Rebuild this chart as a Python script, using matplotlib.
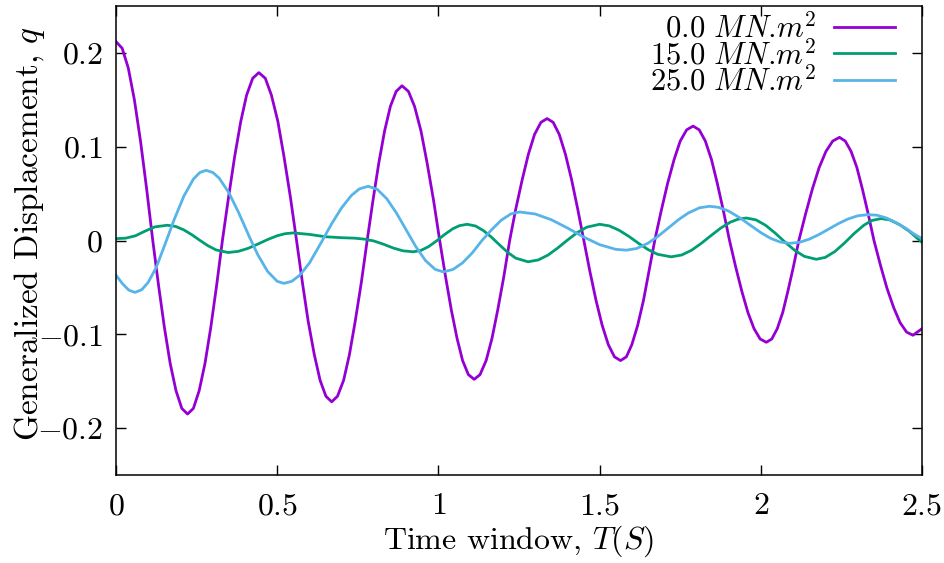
import numpy as np
import matplotlib
matplotlib.use("Agg")
import matplotlib.pyplot as plt

plt.rcParams['font.family'] = 'serif'
plt.rcParams['font.serif'] = ['cmr10']
plt.rcParams['mathtext.fontset'] = 'cm'
plt.rcParams['axes.formatter.use_mathtext'] = True

# 0.0 MN.m^2
t_a = [0.000, 0.019, 0.038, 0.057, 0.076, 0.095, 0.114,
       0.132, 0.150, 0.168, 0.186, 0.204, 0.222, 0.240, 0.258, 0.276, 0.294, 0.312, 0.330,
       0.349, 0.368, 0.387, 0.405, 0.424, 0.443, 0.463, 0.482, 0.502, 0.521, 0.541, 0.560,
       0.578, 0.596, 0.615, 0.633, 0.651, 0.669, 0.687, 0.706, 0.724, 0.742, 0.761, 0.779,
       0.797, 0.815, 0.833, 0.851, 0.869, 0.887, 0.907, 0.926, 0.946, 0.965, 0.985, 1.004,
       1.022, 1.040, 1.058, 1.075, 1.093, 1.111, 1.129, 1.148, 1.166, 1.184, 1.203, 1.221,
       1.240, 1.260, 1.279, 1.298, 1.318, 1.337, 1.356, 1.375, 1.394, 1.413, 1.432, 1.451,
       1.470, 1.489, 1.508, 1.527, 1.546, 1.565, 1.583, 1.600, 1.618, 1.636, 1.653, 1.671,
       1.691, 1.711, 1.731, 1.750, 1.770, 1.790, 1.809, 1.828, 1.847, 1.865, 1.884, 1.903,
       1.922, 1.941, 1.960, 1.979, 1.998, 2.017, 2.034, 2.051, 2.068, 2.084, 2.101, 2.118,
       2.139, 2.160, 2.181, 2.202, 2.223, 2.244, 2.262, 2.280, 2.298, 2.315, 2.333, 2.351,
       2.371, 2.391, 2.412, 2.432, 2.452, 2.472, 2.500]
q_a = [0.212, 0.205, 0.184, 0.150, 0.106, 0.055, 0.000,
       -0.048, -0.0925, -0.131, -0.160, -0.179, -0.185, -0.179, -0.160, -0.131, -0.0925, -0.048, 0.000,
       0.046, 0.0895, 0.127, 0.155, 0.173, 0.179, 0.173, 0.155, 0.127, 0.0895, 0.046, 0.000,
       -0.0445, -0.086, -0.1216, -0.149, -0.166, -0.172, -0.166, -0.149, -0.1216, -0.086, -0.0445, 0.000,
       0.0427, 0.0825, 0.1167, 0.143, 0.159, 0.165, 0.159, 0.143, 0.1167, 0.0825, 0.0427, 0.000,
       -0.0383, -0.074, -0.1046, -0.128, -0.143, -0.148, -0.143, -0.128, -0.1046, -0.074, -0.0383, 0.000,
       0.0337, 0.065, 0.0919, 0.113, 0.126, 0.130, 0.126, 0.113, 0.0919, 0.065, 0.0337, 0.000,
       -0.0332, -0.064, -0.0905, -0.111, -0.124, -0.128, -0.124, -0.111, -0.0905, -0.064, -0.0332, 0.000,
       0.0316, 0.061, 0.0863, 0.106, 0.118, 0.122, 0.118, 0.106, 0.0863, 0.061, 0.0316, 0.000,
       -0.0281, -0.054, -0.0767, -0.094, -0.105, -0.1085, -0.105, -0.094, -0.0767, -0.054, -0.0281, 0.000,
       0.0285, 0.055, 0.0778, 0.095, 0.106, 0.110, 0.106, 0.095, 0.0778, 0.055, 0.0285, 0.000,
       -0.0262, -0.0505, -0.0714, -0.0875, -0.0976, -0.101, -0.094]

# 15.0 MN.m^2
t_b = [0.000, 0.030, 0.060, 0.090, 0.120, 0.159, 0.185, 0.210, 0.235, 0.260, 0.285, 0.310, 0.348,
       0.380, 0.410, 0.440, 0.470, 0.500, 0.525, 0.550,
       0.600, 0.650, 0.700, 0.740, 0.770, 0.800, 0.830, 0.860, 0.890, 0.922,
       0.945, 0.970, 0.995, 1.020, 1.045, 1.065, 1.089,
       1.115, 1.140, 1.165, 1.190, 1.215, 1.240, 1.278,
       1.310, 1.340, 1.370, 1.400, 1.430, 1.460, 1.500,
       1.530, 1.560, 1.590, 1.620, 1.650, 1.680, 1.722,
       1.755, 1.785, 1.815, 1.845, 1.875, 1.905, 1.930, 1.955,
       1.985, 2.015, 2.045, 2.075, 2.105, 2.135, 2.172,
       2.200, 2.230, 2.260, 2.290, 2.320, 2.345, 2.373,
       2.400, 2.430, 2.460, 2.480, 2.500]
q_b = [0.002, 0.0025, 0.005, 0.010, 0.0145, 0.0163, 0.0150, 0.0114, 0.0062, 0.0002, -0.0055, -0.0100, -0.0128,
       -0.0115, -0.0083, -0.0038, 0.0010, 0.0051, 0.0073, 0.0081,
       0.0065, 0.0040, 0.0030, 0.0025, 0.0015, -0.0005, -0.0040, -0.0080, -0.0110, -0.0120,
       -0.0107, -0.0064, -0.0002, 0.0066, 0.0126, 0.0158, 0.0173,
       0.0155, 0.0105, 0.0034, -0.0048, -0.0127, -0.0188, -0.0227,
       -0.0207, -0.0155, -0.0080, 0.0004, 0.0083, 0.0142, 0.0173,
       0.0156, 0.0110, 0.0046, -0.0028, -0.0096, -0.0147, -0.0174,
       -0.0154, -0.0104, -0.0031, 0.0051, 0.0131, 0.0195, 0.0228, 0.0240,
       0.0220, 0.0162, 0.0078, -0.0017, -0.0104, -0.0169, -0.0200,
       -0.0180, -0.0117, -0.0025, 0.0076, 0.0164, 0.0214, 0.0234,
       0.0220, 0.0170, 0.0100, 0.0040, -0.0020]

# 25.0 MN.m^2
t_c = [0.000, 0.020, 0.040, 0.059, 0.080, 0.100, 0.125, 0.152, 0.180, 0.210, 0.240, 0.260, 0.279,
       0.300, 0.320, 0.350, 0.380, 0.415, 0.440, 0.470, 0.500, 0.521,
       0.545, 0.570, 0.600, 0.635, 0.670, 0.700, 0.730, 0.755, 0.782,
       0.810, 0.840, 0.870, 0.900, 0.930, 0.960, 0.990, 1.015,
       1.045, 1.075, 1.105, 1.135, 1.165, 1.195, 1.225, 1.252,
       1.300, 1.350, 1.400, 1.450, 1.500, 1.550, 1.583,
       1.615, 1.650, 1.680, 1.710, 1.745, 1.775, 1.810, 1.841,
       1.870, 1.900, 1.935, 1.965, 2.000, 2.030, 2.060, 2.090,
       2.120, 2.150, 2.180, 2.210, 2.240, 2.270, 2.300, 2.332,
       2.360, 2.390, 2.420, 2.450, 2.475, 2.500]
q_c = [-0.037, -0.046, -0.053, -0.0553, -0.0524, -0.0445, -0.0285, -0.0040, 0.0220, 0.0470, 0.0655, 0.0725, 0.0748,
       0.0726, 0.0665, 0.0510, 0.0300, 0.0029, -0.0153, -0.0329, -0.0435, -0.0457,
       -0.0435, -0.0370, -0.0240, -0.0030, 0.0185, 0.0350, 0.0480, 0.0551, 0.0578,
       0.0546, 0.0445, 0.0292, 0.0113, -0.0066, -0.0214, -0.0308, -0.0334,
       -0.0309, -0.0238, -0.0132, 0.0000, 0.0115, 0.0217, 0.0284, 0.0304,
       0.0283, 0.0222, 0.0134, 0.0038, -0.0044, -0.0094, -0.0103,
       -0.0085, -0.0029, 0.0042, 0.0125, 0.0223, 0.0293, 0.0349, 0.0365,
       0.0353, 0.0314, 0.0242, 0.0169, 0.0084, 0.0024, -0.0016, -0.0030,
       -0.0019, 0.0014, 0.0063, 0.0121, 0.0179, 0.0229, 0.0263, 0.0276,
       0.0270, 0.0240, 0.0190, 0.0130, 0.0070, 0.0020]

labels = [r'$\enspace0.0\ MN$.$m^2$', r'$15.0\ MN$.$m^2$', r'$25.0\ MN$.$m^2$']
colors = ['#9400d3', '#009e73', '#56b4e9']

xticks = [0, 0.5, 1, 1.5, 2, 2.5]
xtick_labels = ['$0$', '$0.5$', '$1$', '$1.5$', '$2$', '$2.5$']
yticks = [-0.2, -0.1, 0, 0.1, 0.2]
ytick_labels = ['$-0.2$', '$-0.1$', '$0$', '$0.1$', '$0.2$']

fig = plt.figure(figsize=(9.44, 5.63), dpi=100)
ax = fig.add_axes([0.1229, 0.1563, 0.8538, 0.833])

for t, q, lab, c in zip([t_a, t_b, t_c], [q_a, q_b, q_c], labels, colors):
    ax.plot(t, q, color=c, lw=2.0, label=lab)

ax.set_xlim(0, 2.5)
ax.set_ylim(-0.25, 0.25)
ax.set_xticks(xticks)
ax.set_xticklabels(xtick_labels)
ax.set_yticks(yticks)
ax.set_yticklabels(ytick_labels)
ax.tick_params(direction='in', top=True, right=True, length=7, width=1,
               labelsize=23)
ax.tick_params(axis='x', pad=13)
ax.tick_params(axis='y', pad=9.5)
for s in ax.spines.values():
    s.set_linewidth(1.1)

ax.set_xlabel(r'Time window, $T(S)$', fontsize=23, labelpad=2)
ax.set_ylabel(r'Generalized Displacement, $q$', fontsize=24)
ax.yaxis.set_label_coords(-0.086, 0.514)

leg = ax.legend(loc='upper right', bbox_to_anchor=(0.9665, 0.986),
                frameon=False, markerfirst=False, fontsize=22,
                handlelength=2.0, handletextpad=0.56, labelspacing=-0.15,
                borderaxespad=0.0, borderpad=0.0)

fig.savefig('out.png', dpi=100)
